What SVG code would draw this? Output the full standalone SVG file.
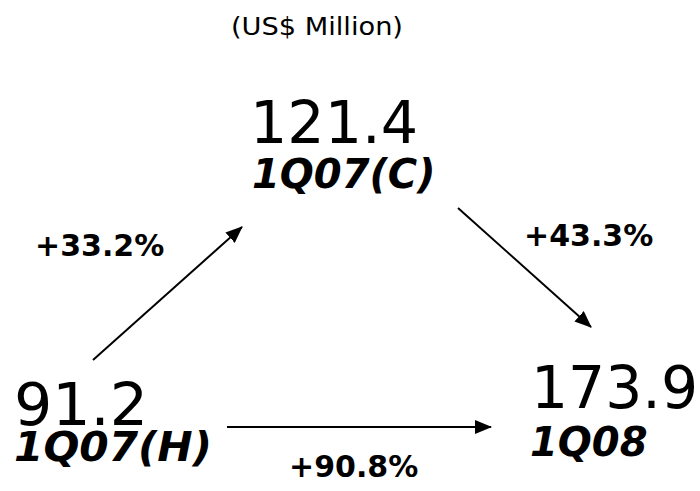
<svg xmlns="http://www.w3.org/2000/svg" width="700" height="491" viewBox="0 0 700 491">
<style>
text{font-family:"DejaVu Sans",Verdana,sans-serif;fill:#000}
.val{font-size:58px}
.per{font-size:40px;font-weight:bold;font-style:italic}
.pct{font-size:30px;font-weight:bold}
.unit{font-size:25px}
.conn{stroke:#000;stroke-width:2;fill:none;marker-end:url(#ah)}
</style>
<defs>
<marker id="ah" markerWidth="17" markerHeight="14" refX="16" refY="7" orient="auto" markerUnits="userSpaceOnUse" viewBox="0 0 17 14">
<path d="M0,0 L17,7 L0,14 Z" fill="#000"/>
</marker>
</defs>
<text class="unit" x="231" y="35" textLength="172" lengthAdjust="spacingAndGlyphs">(US$ Million)</text>
<g id="connectors">
<line class="conn" x1="93" y1="360" x2="242" y2="227"/>
<line class="conn" x1="458" y1="208" x2="591" y2="327"/>
<line class="conn" x1="227" y1="427" x2="491" y2="427"/>
</g>
<g id="node-1q07c">
<text class="val" x="250" y="143" textLength="168" lengthAdjust="spacingAndGlyphs">121.4</text>
<text class="per" x="252" y="188">1Q07(C)</text>
</g>
<g id="node-1q07h">
<text class="val" x="14" y="425" textLength="134" lengthAdjust="spacingAndGlyphs">91.2</text>
<text class="per" x="14" y="461" textLength="198" lengthAdjust="spacingAndGlyphs">1Q07(H)</text>
</g>
<g id="node-1q08">
<text class="val" x="531" y="408" textLength="167" lengthAdjust="spacingAndGlyphs">173.9</text>
<text class="per" x="530" y="456">1Q08</text>
</g>
<text class="pct" x="35" y="256">+33.2%</text>
<text class="pct" x="524" y="246">+43.3%</text>
<text class="pct" x="289" y="477">+90.8%</text>
</svg>
